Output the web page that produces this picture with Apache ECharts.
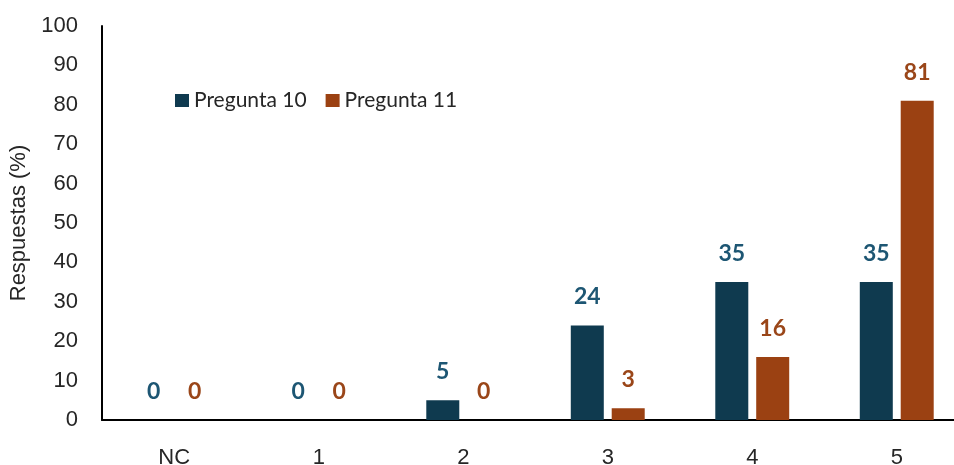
<!DOCTYPE html>
<html>
<head>
<meta charset="utf-8">
<script src="https://cdn.jsdelivr.net/npm/echarts@6/dist/echarts.min.js"></script>
<style>
  html, body { margin: 0; padding: 0; background: #fff; }
  #chart { width: 954px; height: 465px; }
</style>
</head>
<body>
<div id="chart"></div>
<script>
const categories = ["NC", "1", "2", "3", "4", "5"]
const pregunta10 = [0, 0, 5, 24, 35, 35]
const pregunta11 = [0, 0, 0, 3, 16, 81]
const seriesNames = ["Pregunta 10", "Pregunta 11"]

const colP10 = "#0f3a4f"
const colP11 = "#9b4112"
const labP10 = "#1d5673"
const labP11 = "#9a4619"

const chart = echarts.init(document.getElementById("chart"))

const labelStyle = (color) => ({
	show: true,
	position: "top",
	distance: 17,
	color: color,
	fontFamily: "Lato",
	fontWeight: "bold",
	fontSize: 23,
})

chart.setOption({
	animation: false,
	textStyle: { fontFamily: "Liberation Sans" },
	legend: {
		data: seriesNames,
		left: 175,
		top: 90,
		padding: 0,
		itemWidth: 14,
		itemHeight: 13,
		itemGap: 19,
		icon: "rect",
		textStyle: { fontFamily: "Lato", fontSize: 21, color: "#262626" },
	},
	grid: {
		left: 102,
		top: 26,
		width: 867,
		bottom: 45,
		outerBoundsMode: "none",
		containLabel: false,
	},
	xAxis: {
		type: "category",
		data: categories,
		axisLine: { lineStyle: { color: "#000", width: 2 } },
		axisTick: { show: false },
		axisLabel: { color: "#262626", fontSize: 22, margin: 27 },
	},
	yAxis: {
		type: "value",
		min: 0,
		max: 100,
		interval: 10,
		name: "Respuestas (%)",
		nameLocation: "middle",
		nameRotate: 90,
		nameGap: 70,
		nameTextStyle: { fontSize: 22, color: "#262626" },
		axisLine: { show: true, lineStyle: { color: "#000", width: 2 } },
		axisTick: { show: false },
		splitLine: { show: false },
		axisLabel: { color: "#262626", fontSize: 22, margin: 24 },
	},
	series: [
		{
			name: seriesNames[0],
			type: "bar",
			data: pregunta10,
			barWidth: 33,
			barGap: "24%",
			itemStyle: { color: colP10 },
			label: labelStyle(labP10),
		},
		{
			name: seriesNames[1],
			type: "bar",
			data: pregunta11,
			barWidth: 33,
			itemStyle: { color: colP11 },
			label: labelStyle(labP11),
		},
	],
})
</script>
</body>
</html>
